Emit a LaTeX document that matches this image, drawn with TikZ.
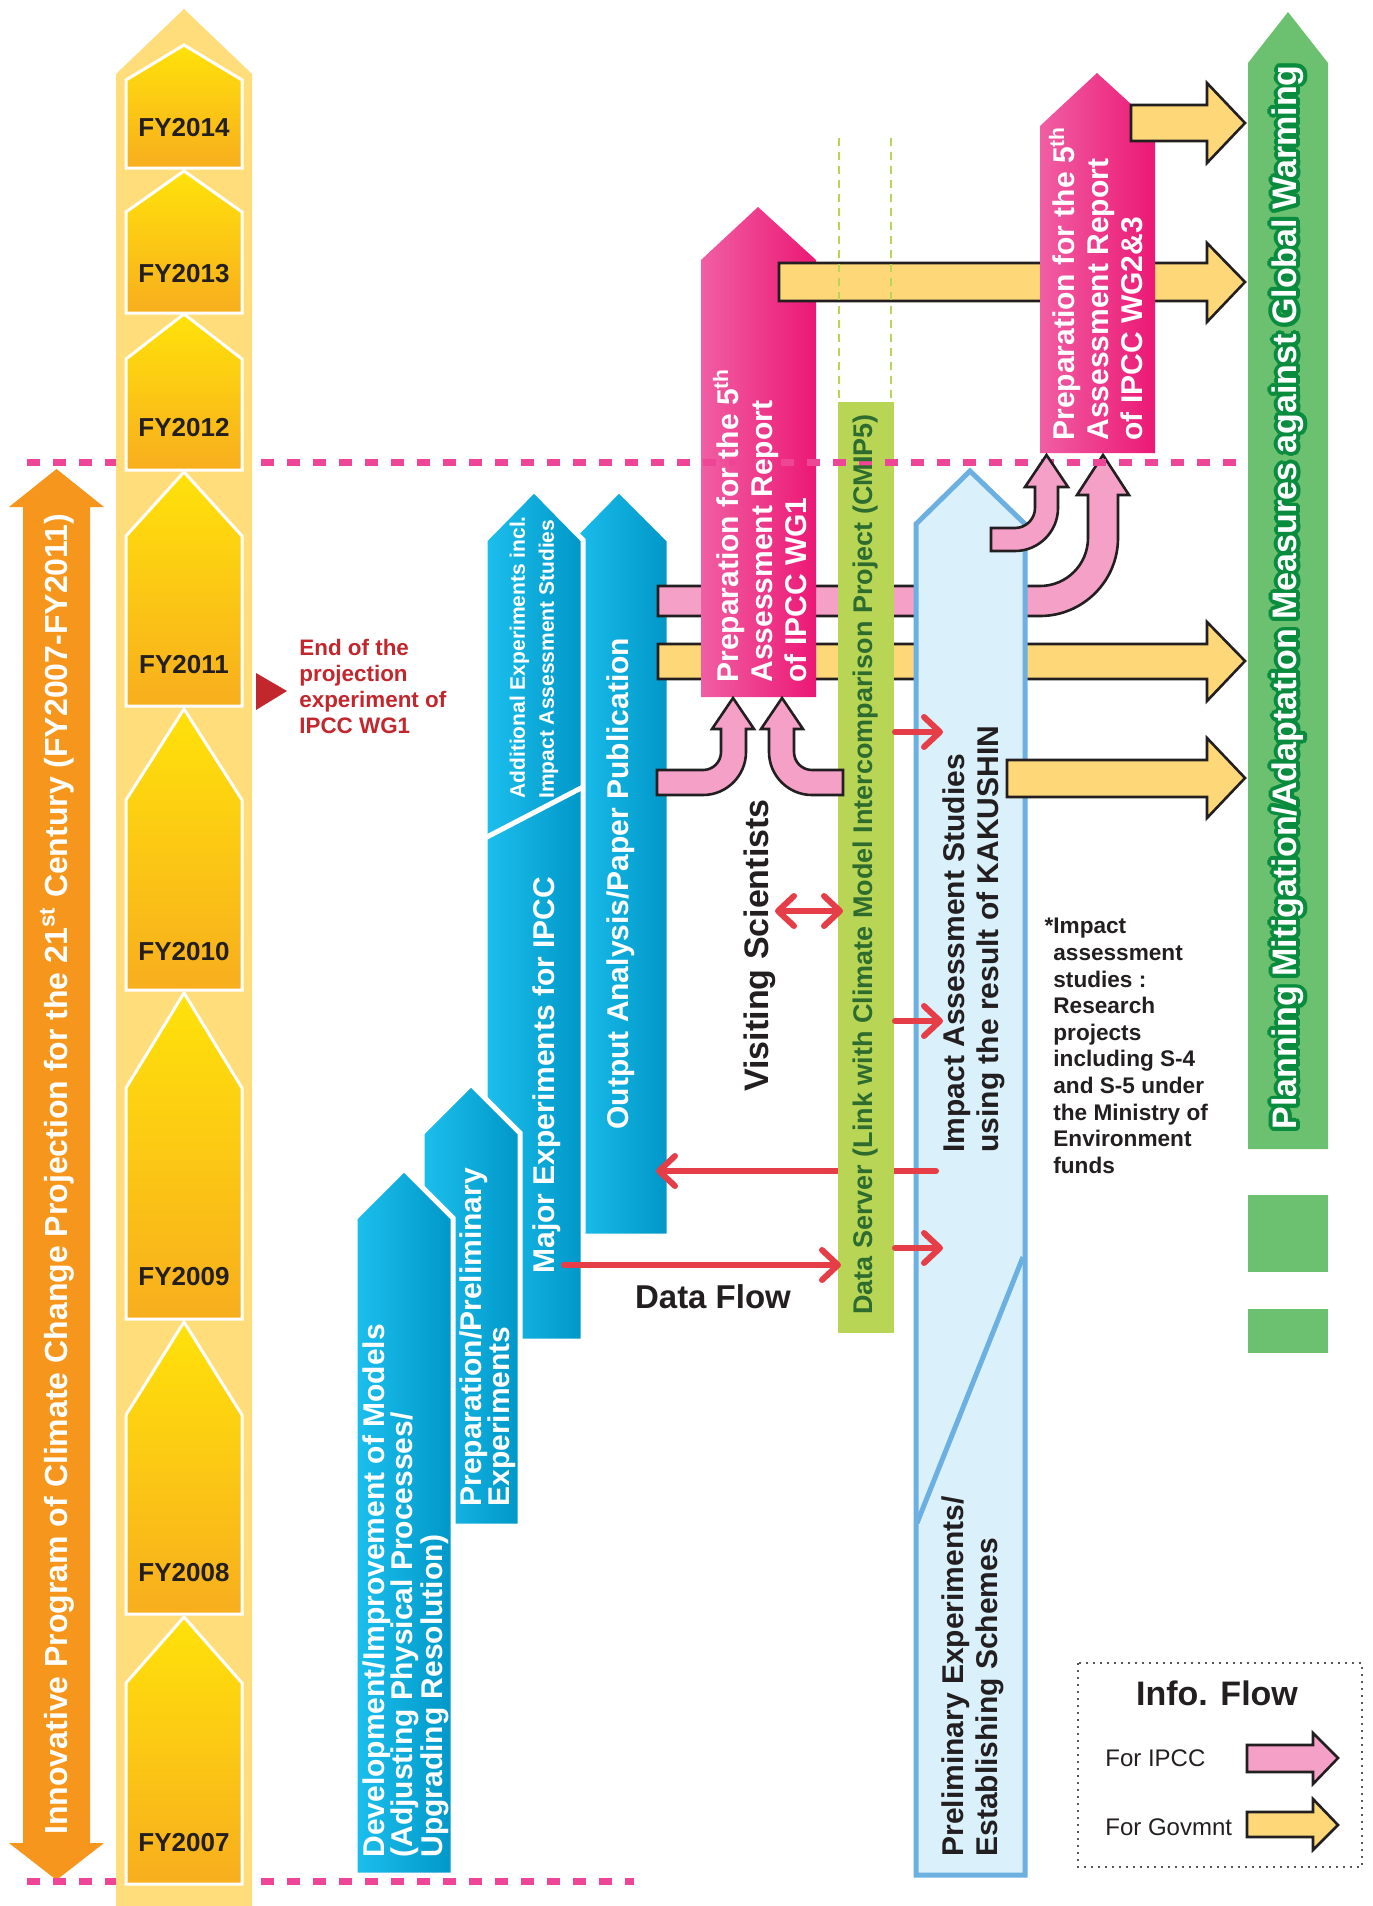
\documentclass[tikz,border=0pt]{standalone}
\usepackage{fontspec}
\setmainfont{Liberation Sans}
\usetikzlibrary{calc,arrows.meta}
\definecolor{colbg}{HTML}{FFDD7B}
\definecolor{fytop}{HTML}{FFE20A}
\definecolor{fybot}{HTML}{F8AE1E}
\definecolor{progorange}{HTML}{F7961D}
\definecolor{dashpink}{HTML}{EE4597}
\definecolor{bluelight}{HTML}{1CBFEE}
\definecolor{bluedark}{HTML}{0097C7}
\definecolor{pinklight}{HTML}{F05EA3}
\definecolor{pinkdark}{HTML}{EC1875}
\definecolor{ipccpink}{HTML}{F4A0C7}
\definecolor{govyellow}{HTML}{FED878}
\definecolor{cmipgreen}{HTML}{B9D555}
\definecolor{cmiptext}{HTML}{2D6B2F}
\definecolor{kakfill}{HTML}{DAF0FA}
\definecolor{kakline}{HTML}{6CB0E2}
\definecolor{plangreen}{HTML}{6CC170}
\definecolor{planedge}{HTML}{0A8C3E}
\definecolor{flowred}{HTML}{E53E48}
\definecolor{endred}{HTML}{C1272D}
\definecolor{ink}{HTML}{231F20}
\tikzset{yearbox/.style={draw=white, line width=1.5pt, top color=fytop, bottom color=fybot}, taskarrow/.style={draw=white, line width=2.5pt, left color=bluelight, right color=bluedark}, wgarrow/.style={left color=pinklight, right color=pinkdark}, toipcc/.style={draw=ink, line width=1.3pt, fill=ipccpink}, togov/.style={draw=ink, line width=1.3pt, fill=govyellow}, flow/.style={draw=flowred, line width=3pt, line cap=round, -{Straight Barb[round, length=8pt, width=15pt]}}, flowboth/.style={flow, arrows={Straight Barb[round, length=8pt, width=15pt]-Straight Barb[round, length=8pt, width=15pt]}}, vlabel/.style={rotate=90, anchor=west, align=left, inner sep=0pt, text=white, font=\bfseries\fontsize{15}{14}\selectfont}, yearlabel/.style={text=ink, font=\bfseries\fontsize{13}{15}\selectfont}, plantext/.style={rotate=90, anchor=west, inner sep=0pt, font=\bfseries\fontsize{17}{19}\selectfont}}

\begin{document}
\begin{tikzpicture}[x=0.5pt, y=-0.5pt]
    \useasboundingbox (0,0) rectangle (1372,1906);
    \path[taskarrow] (570,1236) -- (570,540) -- (619,490) -- (669,540) -- (669,1236) -- cycle;
    \path[taskarrow] (485,1341) -- (485,540) -- (534,490) -- (583,540) -- (583,1341) -- cycle;
    \draw[white, line width=2.5pt] (485,838) -- (583,787);
    \path[taskarrow] (422,1526) -- (422,1133) -- (471,1084) -- (520,1133) -- (520,1526) -- cycle;
    \path[taskarrow] (355,1875) -- (355,1218) -- (404,1169) -- (453,1218) -- (453,1875) -- cycle;
    \node[vlabel] (outtxt) at (621,1130) {Output Analysis/Paper Publication};
    \node[vlabel, font=\bfseries\fontsize{10.5}{14.5}\selectfont] (addtxt) at (534,799) {Additional Experiments incl.\\Impact Assessment Studies};
    \node[vlabel] (majtxt) at (547,1274) {Major Experiments for IPCC};
    \node[vlabel] (preptxt) at (488,1507) {Preparation/Preliminary\\Experiments};
    \node[vlabel] (devtxt) at (406,1858) {Development/Improvement of Models\\(Adjusting Physical Processes/\\Upgrading Resolution)};

    \path[togov] (658,644) -- (1207,644) -- (1207,622) -- (1245,661) -- (1207,701) -- (1207,679) -- (658,679) -- cycle;
    \path[toipcc] (658,586) -- (1040,586) .. controls (1066.5,586) and (1088,564.5) .. (1088,538) -- (1088,495) -- (1077,495) -- (1103,455) -- (1129,495) -- (1118,495) -- (1118,538) .. controls (1118,581) and (1083,616) .. (1040,616) -- (658,616) -- cycle;
    \path[wgarrow] (701,697) -- (701,260) -- (758,207) -- (816,260) -- (816,697) -- cycle;
    \path[togov] (779,263) -- (1207,263) -- (1207,243) -- (1245,282) -- (1207,322) -- (1207,301) -- (779,301) -- cycle;
    \path[wgarrow] (1040,453) -- (1040,126) -- (1097,73) -- (1155,126) -- (1155,453) -- cycle;
    \path[togov] (1131,105) -- (1207,105) -- (1207,83) -- (1245,123) -- (1207,163) -- (1207,141) -- (1131,141) -- cycle;
    \draw[cmipgreen, line width=1pt, dash pattern=on 4pt off 3pt] (839,138) -- (839,402) (891,138) -- (891,402);

    \path[fill=kakfill, draw=kakline, line width=2.5pt] (916,1875) -- (916,524) -- (970,471) -- (1025,524) -- (1025,1875) -- cycle;
    \draw[kakline, line width=2.5pt] (917,1523) -- (1023,1257);
    \coordinate (kak-out) at (936,1171);
    \coordinate (oa-in) at (656,1171);
    \draw[flow] (kak-out) -- (oa-in);
    \fill[cmipgreen] (838,402) rectangle (894,1333);
    \path[fill=progorange] (23,1843) -- (23,507) -- (9,507) -- (56.5,469) -- (104,507) -- (90,507) -- (90,1843) -- (104,1843) -- (56.5,1880) -- (9,1843) -- cycle;
    \draw[dashpink, line width=3.5pt, dash pattern=on 6.5pt off 6.5pt] (27,462) -- (1248,462);
    \draw[dashpink, line width=3.5pt, dash pattern=on 6.5pt off 6.5pt] (27,1881) -- (634,1881);
    \node[vlabel, font=\bfseries\fontsize{15}{17}\selectfont] (wg1txt) at (760,683) {Preparation for the 5\textsuperscript{th}\\Assessment Report\\of IPCC WG1};
    \node[vlabel, font=\bfseries\fontsize{15}{17}\selectfont] (wg23txt) at (1096,441) {Preparation for the 5\textsuperscript{th}\\Assessment Report\\of IPCC WG2\&3};
    \node[rotate=90, anchor=west, inner sep=0pt, text=cmiptext, font=\bfseries\fontsize{13.5}{15}\selectfont] (cmiptxt) at (866,1315) {Data Server (Link with Climate Model Intercomparison Project (CMIP5)};
    \node[rotate=90, anchor=west, align=left, inner sep=0pt, text=ink, font=\bfseries\fontsize{15}{17}\selectfont] (kaktxt) at (974,1153) {Impact Assessment Studies\\using the result of KAKUSHIN};
    \node[rotate=90, anchor=west, align=left, inner sep=0pt, text=ink, font=\bfseries\fontsize{15}{17}\selectfont] (pretxt) at (973,1857) {Preliminary Experiments/\\Establishing Schemes};

    \path[toipcc] (991,528) -- (1015,528) .. controls (1026,528) and (1035,519) .. (1035,508) -- (1035,487) -- (1025,487) -- (1046.5,455) -- (1068,487) -- (1058,487) -- (1058,508) .. controls (1058,531.7) and (1038.7,551) .. (1015,551) -- (991,551) -- cycle;
    \path[togov] (1007,760) -- (1207,760) -- (1207,738) -- (1245,778) -- (1207,818) -- (1207,797) -- (1007,797) -- cycle;
    \path[toipcc] (657,770) -- (703,770) .. controls (713,770) and (721,762) .. (721,752) -- (721,729) -- (712,729) -- (733,698) -- (754,729) -- (746,729) -- (746,752) .. controls (746,775.7) and (726.7,795) .. (703,795) -- (657,795) -- cycle;
    \path[toipcc] (843,770) -- (812,770) .. controls (802,770) and (794,762) .. (794,752) -- (794,729) -- (803,729) -- (782,698) -- (761,729) -- (769,729) -- (769,752) .. controls (769,775.7) and (788.3,795) .. (812,795) -- (843,795) -- cycle;

    \coordinate (vs-r) at (775,911);
    \coordinate (ds-l) at (843,911);
    \coordinate (ds-a) at (895,732);
    \coordinate (kak-a) at (943,732);
    \coordinate (ds-b) at (895,1021);
    \coordinate (kak-b) at (943,1021);
    \coordinate (ds-c) at (895,1248);
    \coordinate (kak-c) at (943,1248);
    \coordinate (me-out) at (564,1265);
    \coordinate (ds-in) at (841,1265);
    \draw[flowboth] (vs-r) -- (ds-l);
    \draw[flow] (ds-a) -- (kak-a);
    \draw[flow] (ds-b) -- (kak-b);
    \draw[flow] (ds-c) -- (kak-c);
    \draw[flow] (me-out) -- (ds-in);
    \node[text=ink, font=\bfseries\fontsize{16.5}{18}\selectfont] (dflabel) at (713,1297) {Data Flow};
    \node[rotate=90, anchor=west, inner sep=0pt, text=ink, font=\bfseries\fontsize{17}{19}\selectfont] (vstxt) at (760,1092) {Visiting Scientists};

    \path[fill=plangreen] (1248,1149) -- (1248,63) -- (1288,12) -- (1328,63) -- (1328,1149) -- cycle;
    \fill[plangreen] (1248,1195) rectangle (1328,1272);
    \fill[plangreen] (1248,1309) rectangle (1328,1353);
    \foreach \a [count=\i] in {0,22.5,...,337.5}
        \node[plantext, text=planedge, shift={(\a:1.9pt)}] (planedge\i) at (1288,1130) {Planning Mitigation/Adaptation Measures against Global Warming};
    \node[plantext, text=white] (plantxt) at (1288,1130) {Planning Mitigation/Adaptation Measures against Global Warming};

    \node[vlabel, font=\bfseries\fontsize{16}{18}\selectfont] (progtxt) at (57,1835) {Innovative Program of Climate Change Projection for the 21\textsuperscript{st} Century (FY2007-FY2011)};

    \fill[colbg] (116,1906) -- (116,74) -- (184,9) -- (252,74) -- (252,1906) -- cycle;
    \path[yearbox] (126,168) -- (126,80) -- (184,45) -- (242,80) -- (242,168) -- cycle;
    \path[yearbox] (126,313) -- (126,212) -- (184,171) -- (242,212) -- (242,313) -- cycle;
    \path[yearbox] (126,470) -- (126,359) -- (184,314) -- (242,359) -- (242,470) -- cycle;
    \path[yearbox] (126,706) -- (126,536) -- (184,472) -- (242,536) -- (242,706) -- cycle;
    \path[yearbox] (126,990) -- (126,800) -- (184,709) -- (242,800) -- (242,990) -- cycle;
    \path[yearbox] (126,1319) -- (126,1088) -- (184,993) -- (242,1088) -- (242,1319) -- cycle;
    \path[yearbox] (126,1614) -- (126,1415) -- (184,1322) -- (242,1415) -- (242,1614) -- cycle;
    \path[yearbox] (126,1884) -- (126,1683) -- (184,1617) -- (242,1683) -- (242,1884) -- cycle;
    \node[yearlabel] (fy2014) at (184,128) {FY2014};
    \node[yearlabel] (fy2013) at (184,274) {FY2013};
    \node[yearlabel] (fy2012) at (184,428) {FY2012};
    \node[yearlabel] (fy2011) at (184,665) {FY2011};
    \node[yearlabel] (fy2010) at (184,952) {FY2010};
    \node[yearlabel] (fy2009) at (184,1277) {FY2009};
    \node[yearlabel] (fy2008) at (184,1573) {FY2008};
    \node[yearlabel] (fy2007) at (184,1843) {FY2007};

    \fill[endred] (256,673) -- (287,691) -- (256,710) -- cycle;
    \node[anchor=west, align=left, inner sep=0pt, text=endred, font=\bfseries\fontsize{11.2}{13}\selectfont] (endtxt) at (299,686) {End of the\\projection\\experiment of\\IPCC WG1};
    \node[anchor=west, align=left, inner sep=0pt, text=ink, font=\bfseries\fontsize{11.3}{13.3}\selectfont] (notetxt) at (1053,1046) {\llap{*}Impact\\assessment\\studies :\\Research\\projects\\including S-4\\and S-5 under\\the Ministry of\\Environment\\funds};

    \draw[ink!75, line width=1.2pt, dash pattern=on 1.2pt off 2.3pt] (1078,1663) rectangle (1362,1867);
    \node[text=ink, font=\bfseries\fontsize{17}{19}\selectfont] (legtitle) at (1217,1693) {Info. Flow};
    \node[anchor=west, inner sep=0pt, text=ink, font=\fontsize{12}{15}\selectfont] (foripcc) at (1105,1758) {For IPCC};
    \node[anchor=west, inner sep=0pt, text=ink, font=\fontsize{12}{15}\selectfont] (forgov) at (1105,1827) {For Govmnt};
    \path[toipcc] (1247,1745) -- (1313,1745) -- (1313,1733) -- (1338,1758) -- (1313,1784) -- (1313,1772) -- (1247,1772) -- cycle;
    \path[togov] (1247,1812) -- (1313,1812) -- (1313,1799) -- (1338,1825) -- (1313,1850) -- (1313,1837) -- (1247,1837) -- cycle;
\end{tikzpicture}
\end{document}
